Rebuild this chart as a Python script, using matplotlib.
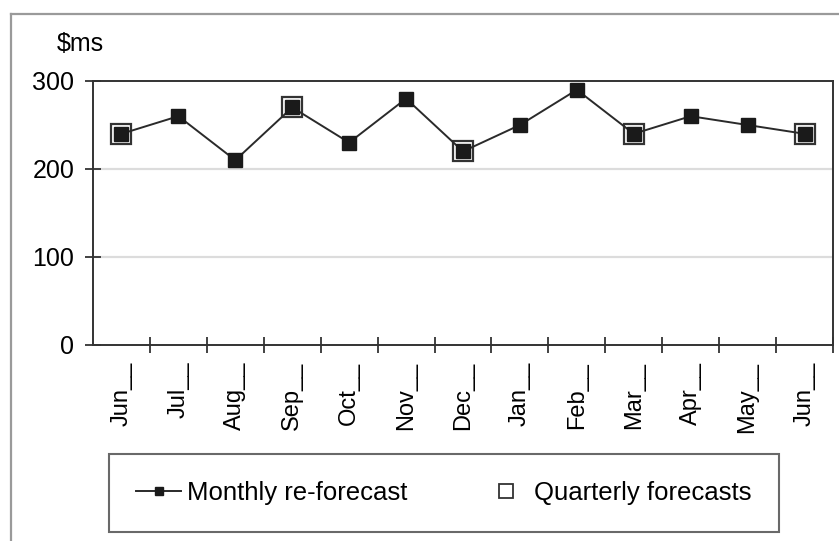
import matplotlib
matplotlib.use("Agg")
import matplotlib.pyplot as plt
from matplotlib.lines import Line2D

plt.rcParams['font.family'] = ['Liberation Sans', 'DejaVu Sans']

# data
months = ["Jun", "Jul", "Aug", "Sep", "Oct", "Nov", "Dec",
          "Jan", "Feb", "Mar", "Apr", "May", "Jun"]
monthly = [240, 260, 210, 270, 230, 280, 220, 250, 290, 240, 260, 250, 240]
quarter_idx = [0, 3, 6, 9, 12]
quarterly = [240, 270, 220, 240, 240]
yticks = [0, 100, 200, 300]

W, H = 839, 541
fig = plt.figure(figsize=(W / 100, H / 100), dpi=100)

# outer frame (top and left edges visible)
fig.add_artist(Line2D([11 / W, 11 / W], [0, 1 - 13.5 / H], color="#9a9a9a", lw=1.6,
                      transform=fig.transFigure))
fig.add_artist(Line2D([11 / W, 1], [1 - 13.5 / H, 1 - 13.5 / H], color="#9a9a9a", lw=1.6,
                      transform=fig.transFigure))

ax = fig.add_axes([93 / W, 1 - 345 / H, (833 - 93) / W, (345 - 81) / H])

x = list(range(len(months)))
ax.plot(quarter_idx, quarterly, linestyle="none", marker="s", markersize=15,
        markerfacecolor="white", markeredgecolor="#333333", markeredgewidth=1.6, zorder=3)
ax.plot(x, monthly, color="#2a2a2a", lw=1.4, marker="s", markersize=9.5,
        markerfacecolor="#1a1a1a", markeredgecolor="#1a1a1a", zorder=4)

ax.set_xlim(-0.5, len(months) - 0.5)
ax.set_ylim(0, 300)

ax.set_yticks(yticks)
ax.tick_params(axis="y", direction="inout", length=11, width=1.3, color="#333333",
               labelsize=18, pad=8)
ax.set_xticks(x)
ax.set_xticklabels([m + "__" for m in months], rotation=90, fontsize=17, va="top")
ax.tick_params(axis="x", which="major", length=0, pad=12)
ax.set_xticks([i - 0.5 for i in range(1, len(months) + 1)], minor=True)
ax.tick_params(axis="x", which="minor", direction="inout", length=12, width=1.3,
               color="#333333")

for v in [100, 200]:
    ax.axhline(v, color="#dcdcdc", lw=1.6, zorder=1)

for s in ax.spines.values():
    s.set_color("#333333")
    s.set_linewidth(1.4)

fig.text(57 / W, 1 - 44 / H, "$ms", fontsize=18, ha="left", va="center")

handles = [
    Line2D([], [], color="#2a2a2a", lw=1.4, marker="s", markersize=6,
           markerfacecolor="#1a1a1a", markeredgecolor="#1a1a1a"),
    Line2D([], [], linestyle="none", marker="s", markersize=10,
           markerfacecolor="white", markeredgecolor="#333333", markeredgewidth=1.3),
]
leg = fig.legend(handles, ["Monthly re-forecast", "Quarterly forecasts"],
                 loc="center", bbox_to_anchor=((110 + 778) / 2 / W, 1 - 493 / H),
                 ncol=2, fontsize=18.5, frameon=True, fancybox=False,
                 edgecolor="#444444", borderpad=1.05, handlelength=1.75,
                 handletextpad=0.2, columnspacing=3.0)
leg.get_frame().set_linewidth(1.5)

fig.savefig("out.png", dpi=100)
